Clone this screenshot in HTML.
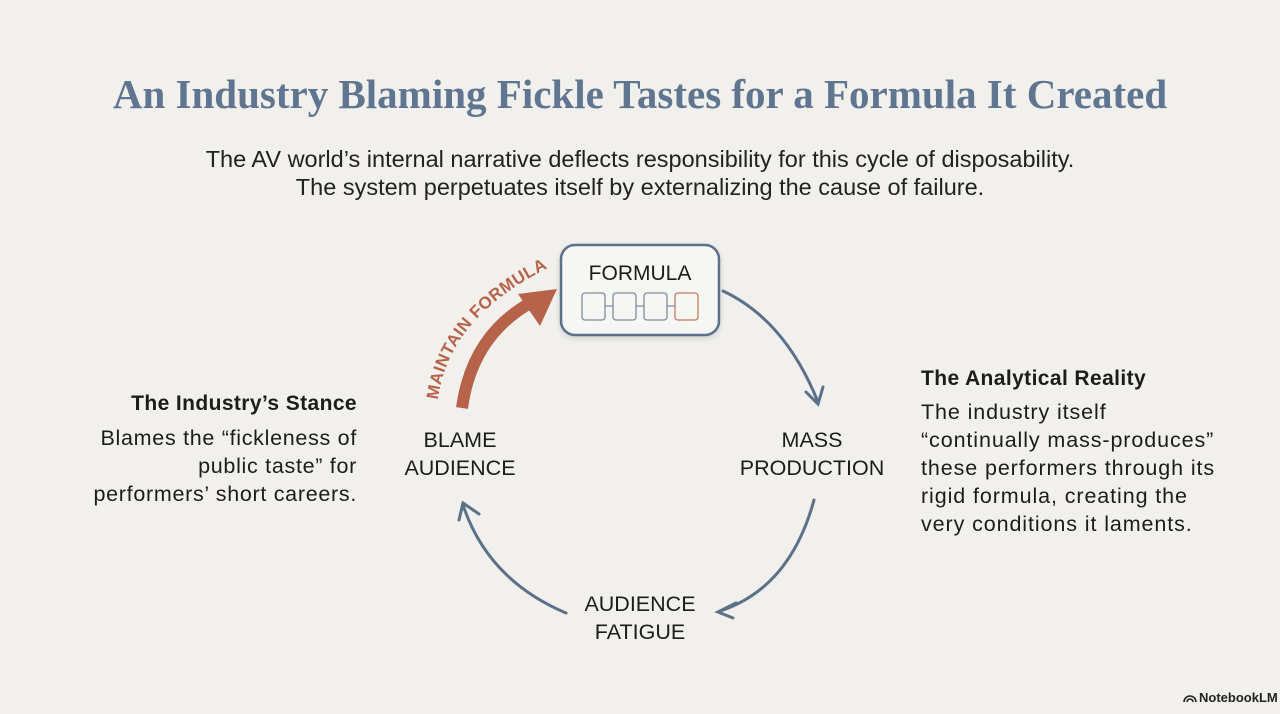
<!DOCTYPE html>
<html><head><meta charset="utf-8"><style>
html,body{margin:0;padding:0;background:#f1f0ec;}
body{width:1280px;height:714px;overflow:hidden;position:relative;font-family:"Liberation Sans",sans-serif;color:#1c1c1c;}
.t{position:absolute;white-space:nowrap;}
</style></head><body>
<div class="t" style="left:0;width:1280px;text-align:center;top:70px;font-family:'Liberation Serif',serif;font-size:41px;font-weight:bold;color:#5f7590;">An Industry Blaming Fickle Tastes for a Formula It Created</div>
<div class="t" style="left:0;width:1280px;text-align:center;top:145px;font-size:23.5px;line-height:28px;color:#222;">The AV world’s internal narrative deflects responsibility for this cycle of disposability.<br>The system perpetuates itself by externalizing the cause of failure.</div>

<div class="t" style="right:923px;top:392px;font-size:21px;font-weight:bold;text-align:right;letter-spacing:0.4px;">The Industry’s Stance</div>
<div class="t" style="right:923px;top:424px;font-size:21.5px;line-height:28px;text-align:right;letter-spacing:0.7px;">Blames the “fickleness of<br>public taste” for<br>performers’ short careers.</div>

<div class="t" style="left:921px;top:367px;font-size:21px;font-weight:bold;letter-spacing:0.4px;">The Analytical Reality</div>
<div class="t" style="left:921px;top:398px;font-size:21.5px;line-height:28px;letter-spacing:0.9px;">The industry itself<br>“continually mass-produces”<br>these performers through its<br>rigid formula, creating the<br>very conditions it laments.</div>

<div class="t" style="left:370px;width:180px;text-align:center;top:426px;font-size:21.5px;line-height:28px;">BLAME<br>AUDIENCE</div>
<div class="t" style="left:722px;width:180px;text-align:center;top:426px;font-size:21.5px;line-height:28px;">MASS<br>PRODUCTION</div>
<div class="t" style="left:550px;width:180px;text-align:center;top:590px;font-size:21.5px;line-height:28px;">AUDIENCE<br>FATIGUE</div>

<svg width="1280" height="714" style="position:absolute;left:0;top:0">
<defs><filter id="sh"><feDropShadow dx="0" dy="2" stdDeviation="3" flood-opacity="0.15"/></filter></defs>
<rect x="561" y="245" width="158" height="90" rx="14" fill="#f6f6f3" stroke="#5b7189" stroke-width="2.5" filter="url(#sh)"/>
<text x="640" y="280" text-anchor="middle" font-family="Liberation Sans" font-size="21" fill="#1c1c1c">FORMULA</text>
<g fill="none" stroke-width="1.3">
<rect x="582" y="293" width="23" height="27" rx="3" stroke="#7b8ea3"/>
<rect x="613" y="293" width="23" height="27" rx="3" stroke="#7b8ea3"/>
<rect x="644" y="293" width="23" height="27" rx="3" stroke="#7b8ea3"/>
<rect x="675" y="293" width="23" height="27" rx="3" stroke="#c07a63"/>
<path d="M605 306h8M636 306h8M667 306h8" stroke="#7b8ea3"/>
</g>
<g fill="none" stroke="#5b7189" stroke-width="3" stroke-linecap="round">
<path d="M723 291 Q785 320 818 402"/>
<path d="M806 392 L818 404 L823 387"/>
<path d="M814 500 Q790 588 720 611"/>
<path d="M736 603 L718 612 L733 618"/>
<path d="M566 613 Q488 580 463 505"/>
<path d="M459 520 L463 503 L479 514"/>
</g>
<path d="M462 408 Q472 335 532 302" fill="none" stroke="#b7634a" stroke-width="12"/>
<polygon points="557,289 518,294 540,326" fill="#b7634a"/>
<path id="tp" d="M438 400 Q448 318 548 268" fill="none"/>
<text font-family="Liberation Sans" font-weight="bold" font-size="17" fill="#b7634a" letter-spacing="0.5"><textPath href="#tp">MAINTAIN FORMULA</textPath></text>
<g transform="translate(1183,692)" fill="none" stroke="#222" stroke-width="1.6">
<path d="M1 10 A6 6 0 0 1 13 10"/><path d="M4 10 A3 3 0 0 1 10 10"/>
</g>
<text x="1199" y="702" font-family="Liberation Sans" font-weight="bold" font-size="13" fill="#222">NotebookLM</text>
</svg>
</body></html>
